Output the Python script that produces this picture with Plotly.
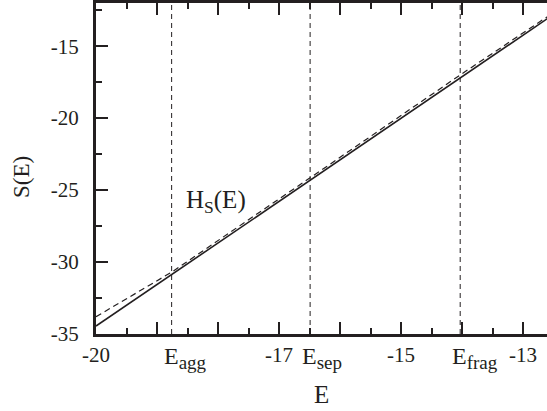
import plotly.graph_objects as go

# Data
E_solid = [-20.0, -18.76, -16.49, -14.03, -12.0]
S_solid = [-34.45, -30.86, -24.30, -17.17, -11.35]
E_dash = [-20.0, -18.76, -16.49, -14.03, -12.0]
S_dash = [-33.80, -30.70, -24.15, -17.00, -11.25]

E_marks = [-18.76, -16.49, -14.03]
E_mark_names = ["agg", "sep", "frag"]

x_tickvals = [-20, -19, -18, -17, -16, -15, -14, -13]
x_ticktext = ["-20", "", "", "-17", "", "-15", "", "-13"]
y_tickvals = [-35, -30, -25, -20, -15]
y_ticktext = ["-35", "-30", "-25", "-20", "-15"]

FONT = "Liberation Serif"
INK = "#231f20"

fig = go.Figure()

y_lo, y_hi = -35.0, -12.0
for xm in E_marks:
    fig.add_trace(go.Scatter(x=[xm, xm], y=[y_lo, y_hi], mode="lines",
                             line=dict(color=INK, width=1, dash="5px,4px"),
                             hoverinfo="skip", showlegend=False))

fig.add_trace(go.Scatter(x=E_dash, y=S_dash, mode="lines",
                         line=dict(color=INK, width=1.2, dash="6px,4px"),
                         showlegend=False))
fig.add_trace(go.Scatter(x=E_solid, y=S_solid, mode="lines",
                         line=dict(color=INK, width=1.6),
                         showlegend=False))

annotations = []
for xm, nm in zip(E_marks, E_mark_names):
    annotations.append(dict(x=xm, xref="x", y=-0.022, yref="paper",
                            text=f"E<sub><span style='font-size:19px'>{nm}</span></sub>",
                            showarrow=False,
                            xanchor="left", yanchor="top", xshift=-10,
                            font=dict(family=FONT, size=24, color=INK)))
annotations.append(dict(x=-18.55, y=-25.8, xref="x", yref="y",
                        text="H<sub>S</sub>(E)", showarrow=False,
                        xanchor="left", yanchor="middle",
                        font=dict(family=FONT, size=25, color=INK)))
annotations.append(dict(x=0.5, y=395, xref="paper", yref="paper",
                        text="E", showarrow=False, xanchor="center", yanchor="middle",
                        font=dict(family=FONT, size=25, color=INK)))
annotations.append(dict(x=0.5, y=0.5, xref="paper", yref="paper",
                        text="S(E)", showarrow=False, textangle=-90,
                        xanchor="center", yanchor="middle",
                        font=dict(family=FONT, size=23, color=INK)))
# convert pixel positions for axis titles
annotations[-2].update(x=0.5, y=(334 - 395) / 333.0)
annotations[-1].update(x=(22 - 96) / 451.0, y=(334 - 176) / 333.0)

fig.update_layout(
    width=547, height=411,
    margin=dict(l=96, r=0, t=1, b=77),
    paper_bgcolor="white", plot_bgcolor="white",
    font=dict(family=FONT, color=INK, size=21),
    annotations=annotations,
    xaxis=dict(range=[-20, -12.607], showgrid=False, zeroline=False,
               showline=True, linecolor=INK, linewidth=3, mirror="ticks",
               ticks="inside", ticklen=12, tickwidth=2, tickcolor=INK,
               tickvals=x_tickvals, ticktext=x_ticktext,
               ticklabelstandoff=0,
               minor=dict(dtick=0.5, tick0=-20, ticks="inside", ticklen=6,
                          tickwidth=2, tickcolor=INK)),
    yaxis=dict(range=[y_lo, y_hi], showgrid=False, zeroline=False,
               showline=True, linecolor=INK, linewidth=3, mirror=False,
               ticks="inside", ticklen=12, tickwidth=2, tickcolor=INK,
               tickvals=y_tickvals, ticktext=y_ticktext,
               ticklabelstandoff=10,
               minor=dict(dtick=2.5, tick0=-35, ticks="inside", ticklen=6,
                          tickwidth=2, tickcolor=INK)),
)

fig.write_html("out.html")
